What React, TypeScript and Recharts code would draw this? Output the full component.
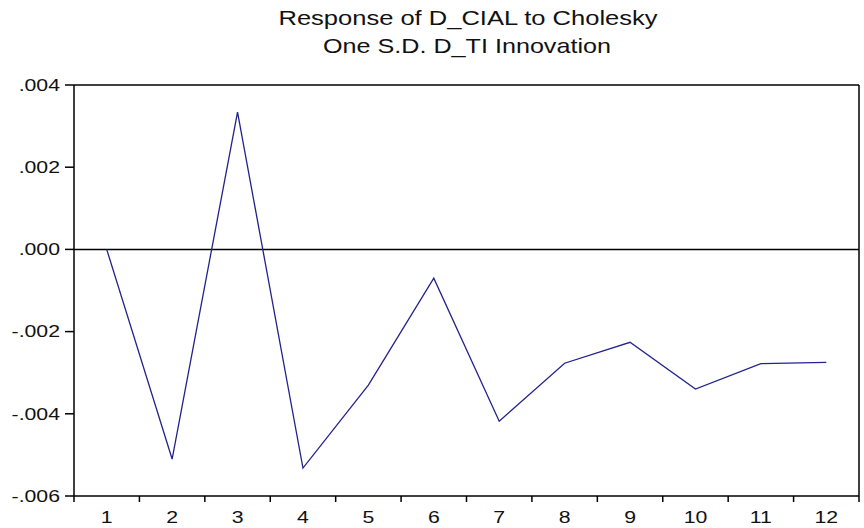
import { LineChart, Line, XAxis, YAxis, ReferenceLine } from 'recharts';

const periods = [1, 2, 3, 4, 5, 6, 7, 8, 9, 10, 11, 12];
const response = [0, -0.0051, 0.00334, -0.00532, -0.0033, -0.0007, -0.00418, -0.00277, -0.00226, -0.0034, -0.00278, -0.00275];
const yTicks = [-0.006, -0.004, -0.002, 0, 0.002, 0.004];
const xTicks = [0.5, 1, 1.5, 2, 2.5, 3, 3.5, 4, 4.5, 5, 5.5, 6, 6.5, 7, 7.5, 8, 8.5, 9, 9.5, 10, 10.5, 11, 11.5, 12, 12.5];
const titleLines = ['Response of D_CIAL to Cholesky', 'One S.D. D_TI Innovation'];

const data = periods.map((p, i) => ({ period: p, value: response[i] }));

const font = '"Liberation Sans", Arial, sans-serif';

const fmtY = (v: number) => {
  const s = v.toFixed(3);
  return s.replace('0.', '.');
};

function YTick({ x, y, payload }: any) {
  return (
    <text
      transform={`translate(${x},${y}) scale(1.25,1)`}
      textAnchor="end"
      dominantBaseline="central"
      fontFamily={font}
      fontSize={17}
      fill="#111"
    >
      {fmtY(payload.value)}
    </text>
  );
}

function XTick({ x, y, payload }: any) {
  const v = payload.value;
  if (!Number.isInteger(v)) {
    return <line x1={x} x2={x} y1={y} y2={y + 6} stroke="#000" strokeWidth={1.5} />;
  }
  return (
    <text
      transform={`translate(${x},${y + 21}) scale(1.25,1)`}
      textAnchor="middle"
      dominantBaseline="central"
      fontFamily={font}
      fontSize={17}
      fill="#111"
    >
      {v}
    </text>
  );
}

export default function App() {
  return (
    <div style={{ position: 'absolute', left: 0, top: 0, width: 864, height: 528, background: '#fff' }}>
      <svg width={864} height={80} style={{ position: 'absolute', left: 0, top: 0 }}>
        <text x={468} y={25} textAnchor="middle" fontFamily={font} fontSize={21} textLength={379} lengthAdjust="spacingAndGlyphs" fill="#111">
          {titleLines[0]}
        </text>
        <text x={467} y={53} textAnchor="middle" fontFamily={font} fontSize={21} textLength={288} lengthAdjust="spacingAndGlyphs" fill="#111">
          {titleLines[1]}
        </text>
      </svg>
      <LineChart width={864} height={528} data={data} margin={{ top: 85, right: 5, left: 0, bottom: 0 }}>
        <XAxis
          dataKey="period"
          type="number"
          domain={[0.5, 12.5]}
          ticks={xTicks}
          interval={0}
          tickLine={false}
          tickSize={0}
          tickMargin={0}
          tick={<XTick />}
          height={32}
          axisLine={{ stroke: '#000', strokeWidth: 1.5 }}
        />
        <YAxis
          type="number"
          domain={[-0.006, 0.004]}
          ticks={yTicks}
          interval={0}
          width={74}
          tickSize={9}
          tickMargin={5}
          tick={<YTick />}
          tickLine={{ stroke: '#000', strokeWidth: 1.5 }}
          axisLine={{ stroke: '#000', strokeWidth: 1.5 }}
        />
        <ReferenceLine y={0.004} stroke="#000" strokeWidth={1.5} />
        <ReferenceLine x={12.5} stroke="#000" strokeWidth={1.5} />
        <ReferenceLine y={0} stroke="#000" strokeWidth={1.5} />
        <Line
          type="linear"
          dataKey="value"
          stroke="#22228c"
          strokeWidth={1.3}
          dot={false}
          isAnimationActive={false}
        />
      </LineChart>
    </div>
  );
}
